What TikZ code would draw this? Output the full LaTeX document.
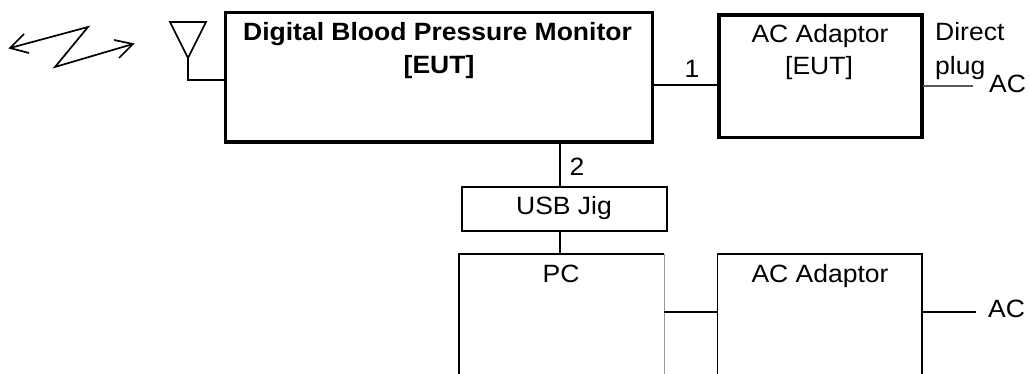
\documentclass[tikz,border=0pt]{standalone}
\usepackage{fontspec}
\setmainfont{Liberation Sans}
\tikzset{
  thickbox/.style={draw=black,line width=3.5pt,fill=none},
  thinbox/.style={draw=black,line width=1.7pt,fill=none},
  wire/.style={draw=black,line width=1.7pt},
  txt/.style={inner sep=0pt,anchor=base,font=\fontsize{25}{29}\selectfont,text=black,xscale=1.06},
  txtw/.style={txt,anchor=base west},
  boldtxt/.style={txt,font=\fontsize{25}{29}\selectfont\bfseries},
}
\begin{document}
\begin{tikzpicture}[x=1pt,y=-1pt]
\useasboundingbox (0,0) rectangle (1031,374);
\coordinate (mainNW) at (225.5,12.5);
\coordinate (mainSE) at (652.5,142);
\draw[thickbox] (mainNW) rectangle (mainSE);
\node[boldtxt] (mainA) at (437.5,41) {Digital Blood Pressure Monitor};
\node[boldtxt] (mainB) at (439,74) {[EUT]};
\coordinate (acNW) at (719,15);
\coordinate (acSE) at (922,137.5);
\draw[thickbox] (acNW) rectangle (acSE);
\node[txt] (acA) at (820,43) {AC Adaptor};
\node[txt] (acB) at (819,75) {[EUT]};
\coordinate (l1a) at (654,84.7);
\coordinate (l1b) at (717,84.7);
\draw[wire] (l1a) -- (l1b);
\node[txt] (one) at (692,78) {1};
\coordinate (a1) at (923,86);
\coordinate (a2) at (973,86);
\draw[wire,draw=black!65] (a1) -- (a2);
\node[txtw] (ac1) at (989,93) {AC};
\node[txtw] (dp1) at (935,41) {Direct};
\node[txtw] (dp2) at (935,75) {plug};
\draw[thinbox] (462,187) rectangle (667,231);
\node[txt] (usb) at (564,215) {USB Jig};
\coordinate (u1) at (560,144);
\coordinate (u2) at (560,187);
\draw[wire,line width=1.2pt] (u1) -- (u2);
\node[txt] (two) at (577,176) {2};
\coordinate (u3) at (560,231);
\coordinate (u4) at (560,254);
\draw[wire,line width=1.2pt] (u3) -- (u4);
\coordinate (pc1) at (459,374);
\coordinate (pc2) at (459,254);
\coordinate (pc3) at (664,254);
\coordinate (pc4) at (664,374);
\draw[wire] (pc1) -- (pc2) -- (pc3);
\draw[line width=1pt,black!40] (pc3) -- (pc4);
\node[txt] (pc) at (561,282) {PC};
\coordinate (ad1) at (717.5,374);
\coordinate (ad2) at (717.5,254);
\coordinate (ad3) at (922,254);
\coordinate (ad4) at (922,374);
\draw[wire] (ad1) -- (ad2) -- (ad3) -- (ad4);
\node[txt] (ad) at (820,282) {AC Adaptor};
\coordinate (w1) at (664,312);
\coordinate (w2) at (717.5,312);
\draw[wire] (w1) -- (w2);
\coordinate (w3) at (922,312);
\coordinate (w4) at (976,312);
\draw[wire] (w3) -- (w4);
\node[txtw] (ac2) at (988,317) {AC};
\coordinate (t1) at (170,22);
\coordinate (t2) at (206,22);
\coordinate (t3) at (188,58);
\coordinate (t4) at (188,80);
\coordinate (t5) at (224,80);
\draw[wire,line join=miter] (t1) -- (t2) -- (t3) -- cycle;
\draw[wire] (t3) -- (t4) -- (t5);
\coordinate (z1) at (10,48);
\coordinate (z2) at (88,27);
\coordinate (z3) at (55,67);
\coordinate (z4) at (133,44);
\coordinate (h1) at (24,34);
\coordinate (h2) at (29,53);
\coordinate (h3) at (114,40);
\coordinate (h4) at (119,58);
\draw[wire] (h1) -- (z1) -- (h2);
\draw[wire] (z1) -- (z2) -- (z3) -- (z4);
\draw[wire] (h3) -- (z4) -- (h4);
\end{tikzpicture}
\end{document}
